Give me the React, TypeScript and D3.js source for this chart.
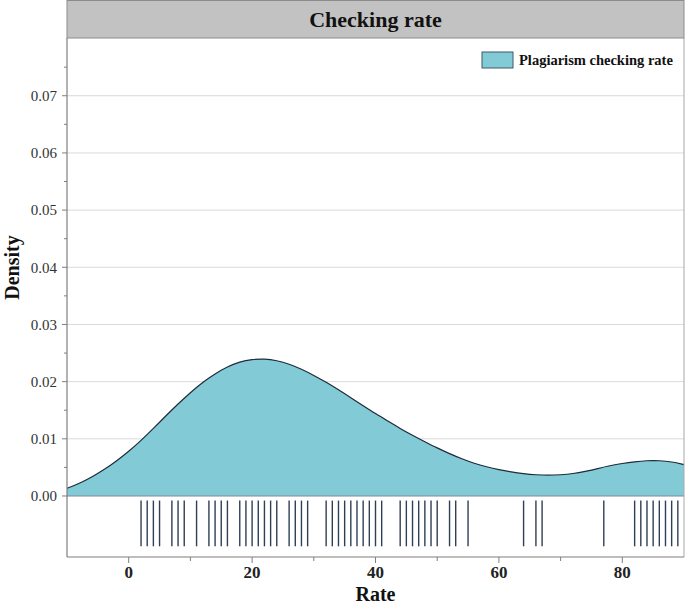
import React from 'react';
import * as d3 from 'd3';

// density curve
const densityX = [-10, -8, -6, -4, -2, 0, 2, 4, 6, 8, 10, 12, 14, 16, 18, 20, 22, 24, 26, 28, 30, 32, 34, 36, 38, 40,
  42, 44, 46, 48, 50, 52, 54, 56, 58, 60, 62, 64, 66, 68, 70, 72, 74, 76, 78, 80, 82, 84, 86, 88, 90];
const densityY = [0.00135, 0.0022, 0.0033, 0.0046, 0.0061, 0.0078, 0.0097, 0.0118, 0.0140, 0.0161, 0.0181, 0.0199,
  0.0214, 0.0226, 0.0235, 0.0239, 0.0240, 0.0237, 0.0231, 0.0222, 0.0211, 0.0199, 0.0186, 0.0172, 0.0158, 0.0144,
  0.0131, 0.0118, 0.0106, 0.0095, 0.0084, 0.0074, 0.0065, 0.0057, 0.0051, 0.0046, 0.0042, 0.0039, 0.0037, 0.0036,
  0.0037, 0.0039, 0.0043, 0.0048, 0.0053, 0.0057, 0.0060, 0.0062, 0.0062, 0.0060, 0.0055];

// individual observations (rug)
const rugValues = [2, 3, 4, 5, 7, 8, 9, 11, 13, 14, 15, 16, 18, 19, 20, 21, 22, 23, 24, 26, 27, 28, 29,
  32, 33, 34, 35, 36, 37, 38, 39, 40, 41, 44, 45, 46, 47, 48, 49, 50, 52, 53, 55, 64, 66, 67, 77,
  82, 83, 84, 85, 86, 87, 88, 89];

const xTicks = [0, 20, 40, 60, 80];
const xMinorTicks = [10, 30, 50, 70];
const yTicks = [0, 0.01, 0.02, 0.03, 0.04, 0.05, 0.06, 0.07];
const yMinorTicks = [0.005, 0.015, 0.025, 0.035, 0.045, 0.055, 0.065, 0.075];

const title = 'Checking rate';
const seriesName = 'Plagiarism checking rate';

const W = 685;
const H = 604;
const left = 67;
const right = 684;
const top = 38;
const bottom = 557;

const FILL = '#82cbd6';
const FONT = '"Liberation Serif", "Times New Roman", serif';

export default function App() {
  const x = d3.scaleLinear().domain([-10, 90]).range([left, right]);
  const y = d3.scaleLinear().domain([-0.01067, 0.0801]).range([bottom, top]);

  const pts = densityX.map((d, i) => [d, densityY[i]] as [number, number]);
  const area = d3.area<[number, number]>()
    .x(d => x(d[0]))
    .y0(y(0))
    .y1(d => y(d[1]))
    .curve(d3.curveBasis);
  const line = d3.line<[number, number]>()
    .x(d => x(d[0]))
    .y(d => y(d[1]))
    .curve(d3.curveBasis);

  const rugTop = y(-0.0008);
  const rugBottom = y(-0.0088);

  return (
    <div>
      <style>{`body{margin:0}`}</style>
      <svg width={W} height={H} style={{ display: 'block', fontFamily: FONT }}>
        {/* grid */}
        {yTicks.slice(1).map(t => (
          <line key={t} x1={left} x2={right} y1={y(t)} y2={y(t)} stroke="#dadada" strokeWidth={1} />
        ))}

        {/* density */}
        <path d={area(pts) || ''} fill={FILL} />
        <path d={line(pts) || ''} fill="none" stroke="#1e2b3a" strokeWidth={1.2} />
        <line x1={left} x2={right} y1={y(0)} y2={y(0)} stroke="#7d8c96" strokeWidth={1.2} />

        {/* rug */}
        {rugValues.map((v, i) => (
          <line key={i} x1={x(v)} x2={x(v)} y1={rugTop} y2={rugBottom} stroke="#2f3f55" strokeWidth={1.4} />
        ))}

        {/* frame */}
        <line x1={right} x2={right} y1={top} y2={bottom} stroke="#a8a8a8" strokeWidth={1} />
        <line x1={left} x2={left} y1={top} y2={bottom} stroke="#7f7f7f" strokeWidth={1.2} />
        <line x1={left} x2={right} y1={bottom} y2={bottom} stroke="#7f7f7f" strokeWidth={1.2} />

        {/* y axis */}
        {yTicks.map(t => (
          <g key={t}>
            <line x1={left - 5} x2={left} y1={y(t)} y2={y(t)} stroke="#7f7f7f" />
            <text x={left - 10} y={y(t)} dy="0.35em" textAnchor="end" fontSize={15} fill="#333">
              {d3.format('.2f')(t)}
            </text>
          </g>
        ))}
        {yMinorTicks.map(t => (
          <line key={t} x1={left - 3} x2={left} y1={y(t)} y2={y(t)} stroke="#7f7f7f" />
        ))}

        {/* x axis */}
        {xTicks.map(t => (
          <g key={t}>
            <line x1={x(t)} x2={x(t)} y1={bottom} y2={bottom + 6} stroke="#7f7f7f" />
            <text x={x(t)} y={bottom + 21} textAnchor="middle" fontSize={17} fontWeight="bold" fill="#222">
              {t}
            </text>
          </g>
        ))}
        {xMinorTicks.map(t => (
          <line key={t} x1={x(t)} x2={x(t)} y1={bottom} y2={bottom + 4} stroke="#7f7f7f" />
        ))}

        {/* axis titles */}
        <text x={(left + right) / 2} y={H - 3} textAnchor="middle" fontSize={20} fontWeight="bold" fill="#111">
          Rate
        </text>
        <text transform={`translate(19, ${(top + bottom) / 2 - 30}) rotate(-90)`} textAnchor="middle"
          fontSize={20} fontWeight="bold" fill="#111">
          Density
        </text>

        {/* title band */}
        <rect x={left} y={0.5} width={right - left} height={top - 0.5} fill="#c2c2c2" stroke="#8c8c8c" />
        <text x={(left + right) / 2} y={27} textAnchor="middle" fontSize={22} fontWeight="bold" fill="#111">
          {title}
        </text>

        {/* legend */}
        <rect x={482} y={52} width={31} height={16} fill={FILL} stroke="#3d5a6b" strokeWidth={1} />
        <text x={519} y={65} fontSize={14.5} fontWeight="bold" fill="#111">{seriesName}</text>
      </svg>
    </div>
  );
}
